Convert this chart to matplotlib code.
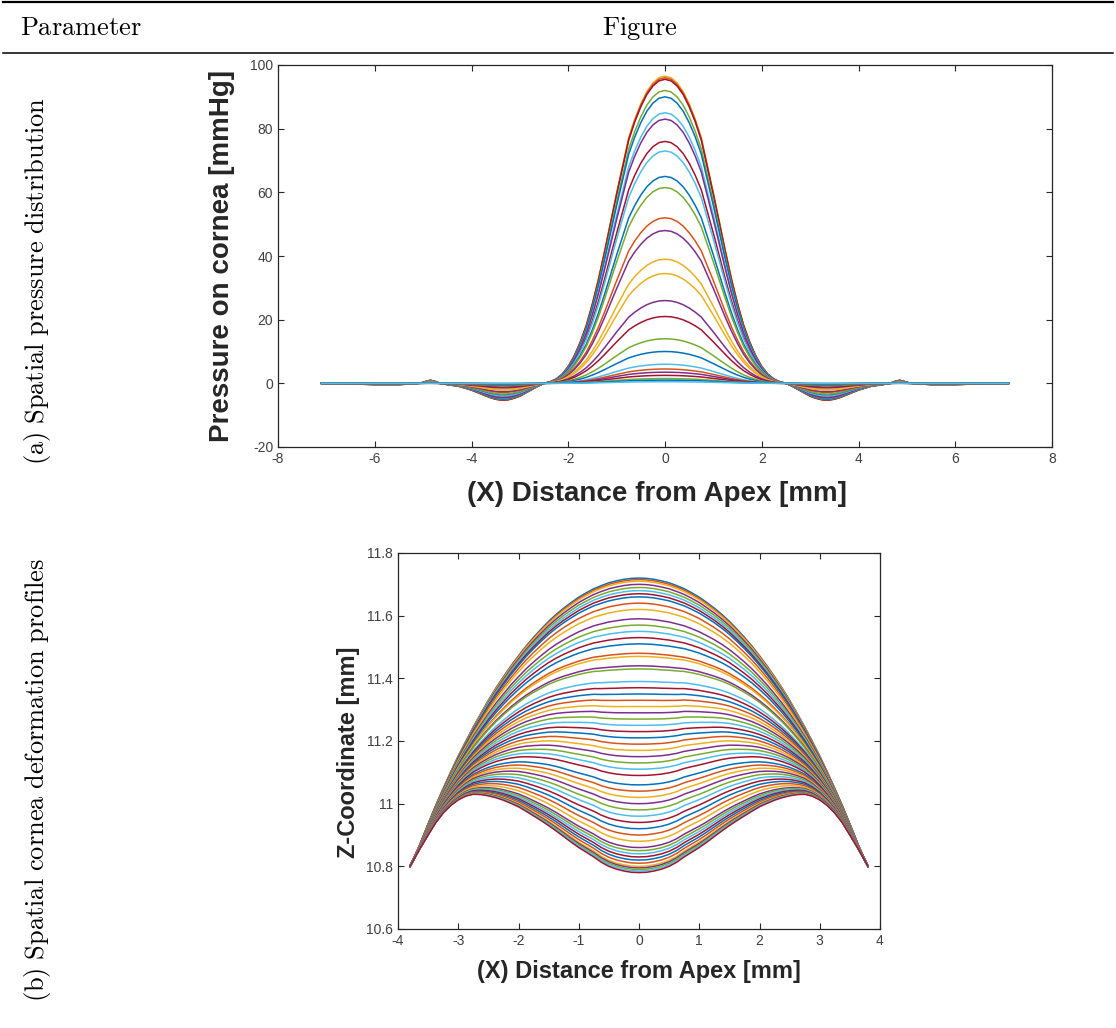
import numpy as np
import matplotlib.pyplot as plt
from matplotlib.lines import Line2D
from matplotlib.ticker import FuncFormatter

plt.rcParams['font.family'] = ['Liberation Sans', 'DejaVu Sans']
plt.rcParams['mathtext.fontset'] = 'cm'
plt.rcParams['axes.unicode_minus'] = False

# (a) pressure: half profile of the outer curve (normalised), x >= 0
px_half = [0, 0.125, 0.25, 0.375, 0.5, 0.625, 0.75, 0.875, 1.0, 1.125, 1.25,
           1.375, 1.5, 1.625, 1.75, 1.875, 2.0, 2.125, 2.25, 2.375, 2.5, 2.625,
           2.75, 2.875, 3.0, 3.125, 3.25, 3.375, 3.5, 3.625, 3.75, 3.875, 4.0,
           4.25, 4.5, 4.65, 4.75, 4.85, 4.95, 5.05, 5.25, 5.5, 6.0, 6.5, 7.1]
p_shape = [1.0, 0.995, 0.978, 0.95, 0.91, 0.86, 0.80, 0.71, 0.62, 0.525, 0.43,
           0.34, 0.26, 0.19, 0.135, 0.09, 0.055, 0.03, 0.014, 0.005, 0.0, -0.009,
           -0.02, -0.031, -0.042, -0.049, -0.054, -0.055, -0.052, -0.046, -0.038,
           -0.030, -0.022, -0.010, -0.004, 0.0, 0.006, 0.010, 0.006, 0.001,
           -0.002, -0.004, -0.004, -0.002, 0.0]
# peak pressure of every curve [mmHg]
p_peaks = [96.5, 96, 95.5, 92, 90, 85, 83, 76, 73, 65, 61.5, 52, 48, 39, 34.5,
           26, 21, 14, 10, 6, 4.5, 3.5, 2.5, 1.5, 1, 0.5]
p_colors = ['#EDB120', '#D95319', '#A2142F', '#77AC30', '#0072BD', '#4DBEEE',
            '#7E2F8E', '#A2142F', '#4DBEEE', '#0072BD', '#77AC30', '#D95319',
            '#7E2F8E', '#EDB120', '#EDB120', '#7E2F8E', '#A2142F', '#77AC30',
            '#0072BD', '#4DBEEE', '#D95319', '#7E2F8E', '#A2142F', '#77AC30',
            '#0072BD', '#4DBEEE']

# (b) deformation: undeformed dome and most deformed profile, x >= 0
zx_half = [0, 0.125, 0.25, 0.375, 0.5, 0.625, 0.75, 0.875, 1.0, 1.125, 1.25,
           1.375, 1.5, 1.625, 1.75, 1.875, 2.0, 2.125, 2.25, 2.375, 2.5, 2.625,
           2.75, 2.875, 3.0, 3.125, 3.25, 3.375, 3.5, 3.65, 3.8]
z_top = [11.72, 11.719, 11.716, 11.711, 11.705, 11.696, 11.686, 11.673, 11.659,
         11.642, 11.624, 11.604, 11.582, 11.557, 11.531, 11.503, 11.472, 11.440,
         11.405, 11.369, 11.330, 11.288, 11.245, 11.199, 11.152, 11.101, 11.048,
         10.993, 10.935, 10.863, 10.80]
z_bot = [10.78, 10.781, 10.785, 10.791, 10.80, 10.813, 10.83, 10.845, 10.86,
         10.877, 10.895, 10.913, 10.93, 10.946, 10.961, 10.976, 10.99, 11.001,
         11.011, 11.019, 11.025, 11.029, 11.03, 11.024, 11.012, 10.994, 10.97,
         10.939, 10.90, 10.852, 10.80]
# apex height of every profile [mm]
z_apex = [11.72, 11.715, 11.71, 11.70, 11.69, 11.68, 11.67, 11.66, 11.64, 11.62,
          11.59, 11.57, 11.55, 11.53, 11.51, 11.48, 11.47, 11.44, 11.43, 11.39,
          11.37, 11.35, 11.33, 11.31, 11.29, 11.27, 11.25, 11.23, 11.21, 11.19,
          11.17, 11.15, 11.13, 11.11, 11.09, 11.06, 11.04, 11.02, 11.00, 10.98,
          10.96, 10.94, 10.92, 10.90, 10.88, 10.86, 10.85, 10.84, 10.83, 10.82,
          10.81, 10.80, 10.795, 10.79, 10.785, 10.78]
cycle = ['#0072BD', '#D95319', '#EDB120', '#7E2F8E', '#77AC30', '#4DBEEE', '#A2142F']

row_labels = ['(a) Spatial pressure distribution',
              '(b) Spatial cornea deformation profiles']


def mirror(xh, yh):
    xh, yh = np.asarray(xh), np.asarray(yh)
    return (np.concatenate([-xh[:0:-1], xh]), np.concatenate([yh[:0:-1], yh]))


def cm(s):
    return r'$\mathrm{' + s.replace(' ', r'\ ') + '}$'


fig = plt.figure(figsize=(11.16, 10.28), dpi=100)

# table rules and text
fig.add_artist(Line2D([0.003, 0.997], [1 - 2 / 1028, 1 - 2 / 1028], color='black', lw=1.6))
fig.add_artist(Line2D([0.003, 0.997], [1 - 53 / 1028, 1 - 53 / 1028], color='black', lw=1.1))
fig.text(20 / 1116, 1 - 28 / 1028, cm('Parameter'), fontsize=19, ha='left', va='center')
fig.text(640 / 1116, 1 - 28 / 1028, cm('Figure'), fontsize=19, ha='center', va='center')
fig.text(38 / 1116, 1 - 281 / 1028, cm(row_labels[0]), fontsize=19, rotation=90,
         ha='center', va='center')
fig.text(38 / 1116, 1 - 780 / 1028, cm(row_labels[1]), fontsize=19, rotation=90,
         ha='center', va='center')


def style(ax, fs):
    for s in ax.spines.values():
        s.set_color('#262626')
        s.set_linewidth(0.9)
    ax.tick_params(direction='in', top=True, right=True, length=4.5, width=0.8,
                   colors='#262626', labelcolor='#404040', labelsize=fs)


# (a)
ax1 = fig.add_axes([278 / 1116, 1 - 447 / 1028, 774 / 1116, 382 / 1028])
xa, sa = mirror(px_half, p_shape)
for pk, c in zip(p_peaks, p_colors):
    ax1.plot(xa, pk * sa, color=c, lw=1.1)
ax1.set_xlim(-8, 8)
ax1.set_ylim(-20, 100)
ax1.set_xticks(np.arange(-8, 9, 2))
ax1.set_yticks(np.arange(-20, 101, 20))
style(ax1, 10)
ax1.set_xlabel('(X) Distance from Apex [mm]', fontsize=20, fontweight='bold',
               color='#262626', va='center')
ax1.xaxis.set_label_coords(0.49, -0.123)
ax1.set_ylabel('Pressure on cornea [mmHg]', fontsize=20, fontweight='bold',
               color='#262626', va='center')
ax1.yaxis.set_label_coords(-0.072, 0.5)

# (b)
ax2 = fig.add_axes([398 / 1116, 1 - 929 / 1028, 482 / 1116, 376 / 1028])
xb, top = mirror(zx_half, z_top)
_, bot = mirror(zx_half, z_bot)
for i, za in enumerate(z_apex):
    f = (z_top[0] - za) / (z_top[0] - z_bot[0])
    ax2.plot(xb, top - f * (top - bot), color=cycle[i % 7], lw=1.1)
ax2.set_xlim(-4, 4)
ax2.set_ylim(10.6, 11.8)
ax2.set_xticks(np.arange(-4, 5, 1))
ax2.set_yticks(np.round(np.arange(10.6, 11.81, 0.2), 1))
ax2.yaxis.set_major_formatter(FuncFormatter(lambda v, p: '%g' % round(v, 1)))
style(ax2, 10)
ax2.set_xlabel('(X) Distance from Apex [mm]', fontsize=17, fontweight='bold',
               color='#262626', va='center')
ax2.xaxis.set_label_coords(0.5, -0.114)
ax2.set_ylabel('Z-Coordinate [mm]', fontsize=17, fontweight='bold',
               color='#262626', va='center')
ax2.yaxis.set_label_coords(-0.102, 0.47)

fig.savefig('out.png', dpi=100)
